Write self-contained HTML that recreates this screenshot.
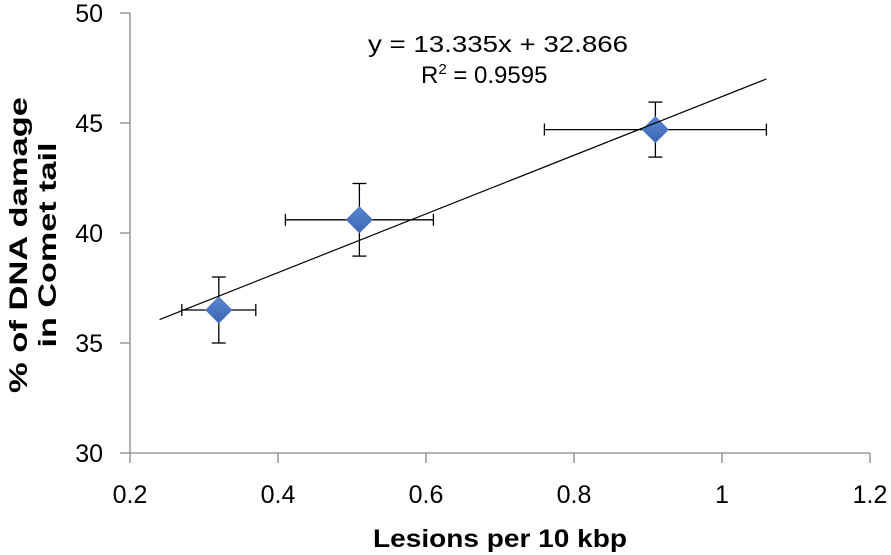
<!DOCTYPE html>
<html><head><meta charset="utf-8"><style>
body{margin:0;background:#fff;}
svg{display:block;font-family:"Liberation Sans",sans-serif;}
</style></head><body>
<svg id="chart" width="891" height="555" viewBox="0 0 891 555" xmlns="http://www.w3.org/2000/svg">
<defs><linearGradient id="dg" x1="0" y1="0" x2="0" y2="1"><stop offset="0" stop-color="#5a86d0"/><stop offset="1" stop-color="#3c66b4"/></linearGradient></defs>
<g id="axes"></g>
<g id="marks"></g>
<text x="368" y="52" font-size="23" textLength="260" lengthAdjust="spacingAndGlyphs" fill="#000">y = 13.335x + 32.866</text>
<text x="421" y="83" font-size="24" fill="#000">R<tspan font-size="15" dy="-9">2</tspan><tspan dy="9"> = 0.9595</tspan></text>
<text x="373" y="547" font-size="25" font-weight="bold" textLength="254" lengthAdjust="spacingAndGlyphs">Lesions per 10 kbp</text>
<text transform="translate(0,245) rotate(-90)" font-size="25" font-weight="bold" text-anchor="middle"><tspan x="0" y="27" textLength="296" lengthAdjust="spacingAndGlyphs">% of DNA damage</tspan><tspan x="0" y="56" textLength="205" lengthAdjust="spacingAndGlyphs">in Comet tail</tspan></text>
</svg>
<script>
const xVals=[0.32,0.51,0.91];
const yVals=[36.5,40.6,44.7];
const xErr=[0.05,0.1,0.15];
const yErr=[1.5,1.65,1.25];
const xTicks=[0.2,0.4,0.6,0.8,1,1.2];
const yTicks=[30,35,40,45,50];
const slope=13.335, intercept=32.866;
const trendRange=[0.24,1.06];
const X=v=>130+(v-0.2)*740;
const Y=v=>453-(v-30)*22;
const NS="http://www.w3.org/2000/svg";
function mk(parent,tag,attrs){const e=document.createElementNS(NS,tag);for(const k in attrs)e.setAttribute(k,attrs[k]);parent.appendChild(e);return e;}
const ax=document.getElementById('axes'),mg=document.getElementById('marks');
let e=mk(ax,'line',{x1:130,y1:Y(50),x2:130,y2:Y(30),stroke:'#888','stroke-width':1.3});


e=mk(ax,'line',{x1:130,y1:Y(30),x2:X(1.2),y2:Y(30),stroke:'#888','stroke-width':1.3});


yTicks.forEach(t=>{
 let l=mk(ax,'line',{x1:120,y1:Y(t),x2:130,y2:Y(t),stroke:'#888','stroke-width':1.3});
 
 
 let tx=mk(ax,'text',{x:103,y:Y(t)+9,'font-size':25,'text-anchor':'end'});tx.textContent=t;
 
 
});
xTicks.forEach(t=>{
 let l=mk(ax,'line',{x1:X(t),y1:453,x2:X(t),y2:463,stroke:'#888','stroke-width':1.3});
 
 
 let tx=mk(ax,'text',{x:X(t),y:503,'font-size':25,'text-anchor':'middle'});tx.textContent=t;
 
 
});
xVals.forEach((v,i)=>{
 const cx=X(v),cy=Y(yVals[i]);
 const g=mk(mg,'g',{stroke:'#000','stroke-width':1.3});
 
 
 const x1=X(v-xErr[i]),x2=X(v+xErr[i]),y1=Y(yVals[i]+yErr[i]),y2=Y(yVals[i]-yErr[i]);
 mk(g,'line',{x1:x1,y1:cy,x2:x2,y2:cy});
 mk(g,'line',{x1:x1,y1:cy-6,x2:x1,y2:cy+6});
 mk(g,'line',{x1:x2,y1:cy-6,x2:x2,y2:cy+6});
 mk(g,'line',{x1:cx,y1:y1,x2:cx,y2:y2});
 mk(g,'line',{x1:cx-7,y1:y1,x2:cx+7,y2:y1});
 mk(g,'line',{x1:cx-7,y1:y2,x2:cx+7,y2:y2});
 const p=mk(mg,'polygon',{points:`${cx},${cy-13} ${cx+13},${cy} ${cx},${cy+13} ${cx-13},${cy}`,fill:'url(#dg)',stroke:'#4a74c0','stroke-width':0.8});
 
 
});
const tl=mk(mg,'line',{x1:X(trendRange[0]),y1:Y(slope*trendRange[0]+intercept),x2:X(trendRange[1]),y2:Y(slope*trendRange[1]+intercept),stroke:'#000','stroke-width':1.2});


</script>
</body></html>
